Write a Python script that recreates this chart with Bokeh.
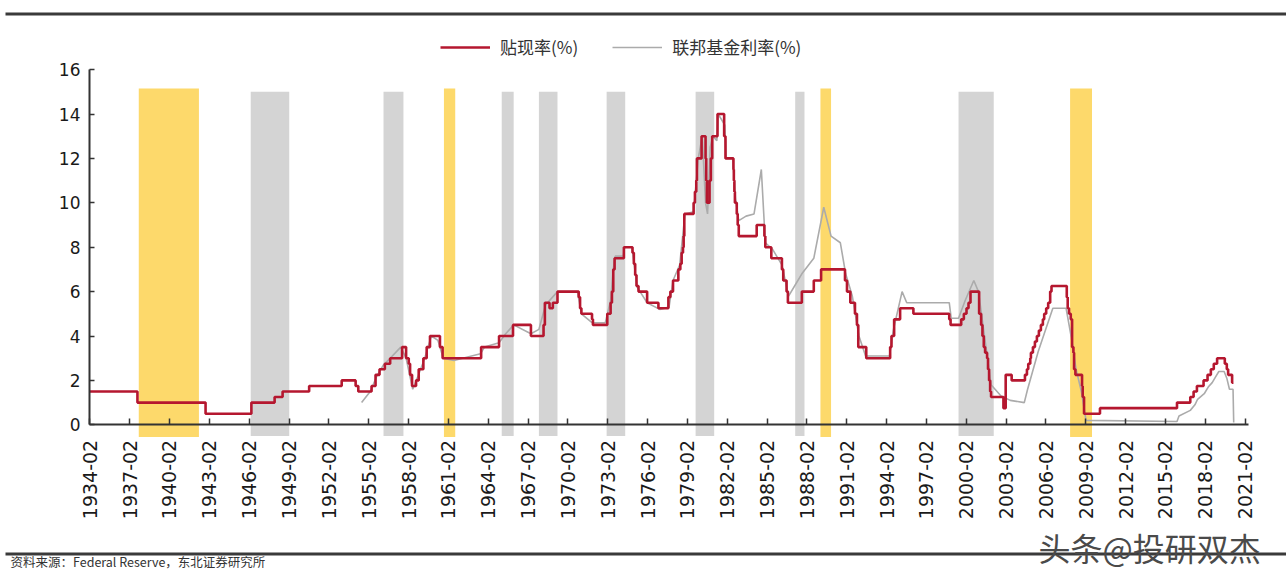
import math
from bokeh.plotting import figure
from bokeh.models import (FixedTicker, CustomJSTickFormatter, Legend, LegendItem, Range1d)
from bokeh.embed import file_html
from bokeh.resources import INLINE
from bokeh.core.properties import value

# ---------------- data (decimal years) ----------------
# Discount rate (%), step changes
dr_dates = [1934.08, 1937.67, 1942.80, 1946.25, 1948.00, 1948.60, 1950.60, 1953.05, 1954.10, 1954.30,
            1955.30, 1955.60, 1955.90, 1956.30, 1956.70, 1957.60, 1957.90, 1958.10, 1958.20, 1958.35,
            1958.65, 1958.85, 1959.20, 1959.45, 1959.70, 1960.45, 1960.65, 1963.55, 1964.90, 1965.95,
            1967.30, 1968.25, 1968.35, 1968.70, 1968.95, 1969.30, 1970.90, 1971.00, 1971.10, 1971.90,
            1971.97, 1973.05, 1973.30, 1973.40, 1973.50, 1973.60, 1974.30, 1974.95, 1975.05, 1975.15,
            1975.25, 1975.40, 1976.05, 1976.90, 1977.65, 1977.80, 1978.00, 1978.40, 1978.55, 1978.65,
            1978.75, 1978.80, 1978.85, 1979.55, 1979.65, 1979.75, 1979.80, 1980.15, 1980.45, 1980.50,
            1980.55, 1980.75, 1980.85, 1980.95, 1981.35, 1981.85, 1981.95, 1982.55, 1982.58, 1982.62,
            1982.66, 1982.80, 1982.87, 1982.95, 1984.30, 1984.88, 1984.95, 1985.40, 1986.20, 1986.30,
            1986.55, 1986.65, 1987.70, 1988.60, 1989.15, 1990.95, 1991.10, 1991.35, 1991.70, 1991.85,
            1991.95, 1992.55, 1994.35, 1994.45, 1994.65, 1995.10, 1996.10, 1998.80, 1998.90, 1999.70,
            1999.90, 2000.10, 2000.25, 2000.40, 2001.05, 2001.20, 2001.30, 2001.40, 2001.50, 2001.65,
            2001.72, 2001.80, 2001.88, 2001.95, 2002.88, 2003.05, 2003.50, 2004.50, 2004.65, 2004.75,
            2004.90, 2004.95, 2005.10, 2005.25, 2005.40, 2005.55, 2005.70, 2005.85, 2005.95, 2006.10,
            2006.25, 2006.40, 2006.50, 2007.65, 2007.72, 2007.82, 2007.95, 2008.05, 2008.15, 2008.20,
            2008.30, 2008.80, 2008.85, 2008.95, 2010.15, 2015.95, 2016.95, 2017.20, 2017.45, 2017.95,
            2018.25, 2018.50, 2018.72, 2018.97, 2019.55, 2019.70, 2019.80, 2020.10, 2020.20]
dr_rate = [1.50, 1.00, 0.50, 1.00, 1.25, 1.50, 1.75, 2.00, 1.75, 1.50,
           1.75, 2.25, 2.50, 2.75, 3.00, 3.50, 3.00, 2.75, 2.25, 1.75,
           2.00, 2.50, 3.00, 3.50, 4.00, 3.50, 3.00, 3.50, 4.00, 4.50,
           4.00, 4.50, 5.50, 5.25, 5.50, 6.00, 5.75, 5.25, 5.00, 4.75,
           4.50, 5.00, 5.50, 6.00, 7.00, 7.50, 8.00, 7.75, 7.25, 6.75,
           6.25, 6.00, 5.50, 5.25, 5.75, 6.00, 6.50, 7.00, 7.25, 7.75,
           8.00, 8.50, 9.50, 10.00, 10.50, 11.00, 12.00, 13.00, 12.00, 11.00,
           10.00, 11.00, 12.00, 13.00, 14.00, 13.00, 12.00, 11.50, 11.00, 10.50,
           10.00, 9.50, 9.00, 8.50, 9.00, 8.50, 8.00, 7.50, 7.00, 6.50,
           6.00, 5.50, 6.00, 6.50, 7.00, 6.50, 6.00, 5.50, 5.00, 4.50,
           3.50, 3.00, 3.50, 4.00, 4.75, 5.25, 5.00, 4.75, 4.50, 4.75,
           5.00, 5.25, 5.50, 6.00, 5.00, 4.50, 4.00, 3.50, 3.25, 3.00,
           2.50, 2.00, 1.50, 1.25, 0.75, 2.25, 2.00, 2.25, 2.50, 2.75,
           3.00, 3.25, 3.50, 3.75, 4.00, 4.25, 4.50, 4.75, 5.00, 5.25,
           5.50, 6.00, 6.25, 5.75, 5.25, 5.00, 4.75, 3.50, 3.25, 2.50,
           2.25, 1.75, 1.25, 0.50, 0.75, 1.00, 1.25, 1.50, 1.75, 2.00,
           2.25, 2.50, 2.75, 3.00, 2.75, 2.50, 2.25, 1.90, 1.90]

# Federal funds rate (%)
ff_dates = [1954.55, 1955.20, 1955.70, 1956.20, 1956.70, 1957.50, 1957.90, 1958.40, 1958.80, 1959.30,
            1959.80, 1960.30, 1960.70, 1961.50, 1963.50, 1963.80, 1964.90, 1965.40, 1966.00, 1967.30,
            1967.90, 1968.40, 1969.30, 1970.80, 1971.10, 1971.90, 1972.90, 1973.30, 1973.50, 1973.65,
            1974.25, 1974.35, 1974.90, 1975.30, 1976.05, 1977.00, 1977.70, 1978.00, 1978.50, 1978.90,
            1979.55, 1979.90, 1980.20, 1980.45, 1980.60, 1980.80, 1981.00, 1981.30, 1981.40, 1981.90,
            1982.00, 1982.50, 1982.70, 1982.95, 1983.50, 1984.10, 1984.65, 1984.95, 1985.50, 1986.20,
            1986.70, 1987.30, 1987.70, 1988.60, 1989.35, 1989.90, 1990.60, 1991.00, 1991.50, 1992.00,
            1992.50, 1994.30, 1994.60, 1995.25, 1995.60, 1998.80, 1998.95, 1999.50, 2000.00, 2000.65,
            2001.00, 2001.95, 2002.70, 2003.40, 2004.45, 2004.70, 2005.50, 2006.60, 2007.60, 2008.00,
            2008.35, 2008.75, 2009.10, 2015.95, 2016.10, 2016.95, 2017.30, 2017.50, 2018.00, 2018.30,
            2018.60, 2018.90, 2019.10, 2019.50, 2019.70, 2019.90, 2020.17, 2020.22]
ff_rate = [1.00, 1.50, 2.20, 2.70, 3.00, 3.50, 3.00, 1.60, 2.20, 3.00,
           4.00, 3.80, 3.00, 2.90, 3.20, 3.50, 3.70, 4.10, 4.50, 4.10,
           4.30, 5.40, 6.00, 6.00, 5.00, 4.60, 4.60, 5.60, 7.00, 7.60,
           7.60, 8.00, 8.00, 6.20, 5.50, 5.20, 5.30, 6.50, 7.20, 9.50,
           9.60, 12.00, 13.00, 10.00, 9.50, 12.50, 13.00, 12.80, 14.00, 13.50,
           12.00, 12.00, 10.20, 9.20, 9.40, 9.50, 11.50, 8.20, 7.90, 7.20,
           5.80, 6.40, 6.80, 7.50, 9.80, 8.50, 8.20, 6.80, 5.80, 4.00,
           3.10, 3.10, 4.30, 6.00, 5.50, 5.50, 4.80, 4.80, 5.60, 6.50,
           6.00, 1.80, 1.30, 1.10, 1.00, 1.60, 3.30, 5.25, 5.25, 3.90,
           2.50, 1.50, 0.20, 0.15, 0.40, 0.65, 0.90, 1.15, 1.40, 1.70,
           1.90, 2.20, 2.40, 2.40, 2.10, 1.60, 1.60, 0.10]

# shaded periods
gray_start = [1946.20, 1956.20, 1965.10, 1967.90, 1973.00, 1979.70, 1987.20, 1999.50]
gray_end = [1949.10, 1957.70, 1966.00, 1969.30, 1974.40, 1981.10, 1987.90, 2002.15]
yellow_start = [1937.77, 1960.75, 1989.10, 2007.90]
yellow_end = [1942.30, 1961.60, 1989.90, 2009.55]

tick_years = list(range(1934, 2022, 3))
y_ticks = [0, 2, 4, 6, 8, 10, 12, 14, 16]

series_names = ["贴现率(%)", "联邦基金利率(%)"]
source_text = "资料来源：Federal Reserve，东北证券研究所"
watermark = "头条@投研双杰"

# ---------------- layout ----------------
W, H = 1286, 571
X0_PX, X0, PX_PER_YEAR = 89, 1934.06, 13.28     # y axis position
Y0_PX, PX_PER_PCT = 424.3, 22.2                 # x axis position
FONT = "DejaVu Sans"
CJK = "Noto Sans CJK SC"


def dx(px):
    return X0 + (px - X0_PX) / PX_PER_YEAR


def dy(py):
    return (Y0_PX - py) / PX_PER_PCT


# the frame covers the whole page; the axes sit at fixed data locations
p = figure(width=W, height=H, x_range=Range1d(dx(0), dx(W)), y_range=Range1d(dy(H), dy(0)),
           output_backend="svg", toolbar_location=None, min_border=0,
           outline_line_color=None)
p.grid.visible = False

p.quad(left=gray_start, right=gray_end, bottom=-0.5, top=15.0,
       fill_color="#D4D4D4", line_color=None)
p.quad(left=yellow_start, right=yellow_end, bottom=-0.55, top=15.15,
       fill_color="#FDD96B", line_color=None)

ff_r = p.line(ff_dates, ff_rate, line_width=1.6, color="#ABABAB")
dr_r = p.step(dr_dates, dr_rate, mode="after", line_width=2.6, color="#B5172F")

legend = Legend(items=[LegendItem(label=series_names[0], renderers=[dr_r]),
                       LegendItem(label=series_names[1], renderers=[ff_r])],
                orientation="horizontal", location=(440, H - 59),
                glyph_width=50, glyph_height=16, label_standoff=10, spacing=34,
                padding=2, margin=0, border_line_color=None, background_fill_alpha=0,
                label_text_font=CJK, label_text_font_size="17px", label_text_color="#333333")
p.add_layout(legend)

xa = p.xaxis[0]
xa.fixed_location = 0
xa.bounds = (X0, dx(1248))
xa.ticker = FixedTicker(ticks=[y + 1 / 12 for y in tick_years])
xa.formatter = CustomJSTickFormatter(code="return Math.round(tick - 1/12) + '-02';")
xa.major_label_orientation = math.pi / 2
xa.major_tick_in = 6
xa.major_tick_out = 0
xa.minor_tick_line_color = None
xa.axis_line_width = 2
xa.axis_line_color = "#333333"
xa.major_tick_line_color = "#333333"
xa.major_tick_line_width = 1.5
xa.major_label_standoff = 15
xa.major_label_text_font = FONT
xa.major_label_text_font_size = "19px"
xa.major_label_text_color = "#1a1a1a"

ya = p.yaxis[0]
ya.fixed_location = X0
ya.bounds = (0, 16)
ya.ticker = FixedTicker(ticks=y_ticks)
ya.major_tick_in = 5
ya.major_tick_out = 0
ya.minor_tick_line_color = None
ya.axis_line_width = 2
ya.axis_line_color = "#333333"
ya.major_tick_line_color = "#333333"
ya.major_tick_line_width = 1.5
ya.major_label_standoff = 9
ya.major_label_text_font = FONT
ya.major_label_text_font_size = "17px"
ya.major_label_text_color = "#1a1a1a"

# page rules, source note and watermark
for rule_y in (13.5, 553.5):
    p.line([dx(5), dx(W)], [dy(rule_y), dy(rule_y)], line_width=3.2, color="#3a3a3a")

p.text(x=[dx(10)], y=[dy(561)], text=[source_text], text_font=value(CJK),
       text_font_size="12.5px", text_baseline="middle", text_color="#333333")
p.text(x=[dx(1038)], y=[dy(546)], text=[watermark], text_font=value(CJK),
       text_font_size="32px", text_baseline="middle", text_color="#4a4a4a")

open("out.html", "w").write(file_html(p, INLINE))
